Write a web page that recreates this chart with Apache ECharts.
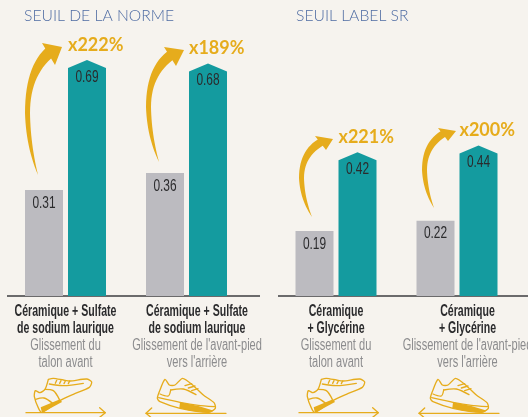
<!DOCTYPE html>
<html><head><meta charset="utf-8">
<style>html,body{margin:0;padding:0;background:#f6f3ee;overflow:hidden}#c{width:528px;height:417px}</style>
<script src="https://cdn.jsdelivr.net/npm/echarts@6/dist/echarts.min.js"></script>
</head><body><div id="c"></div>
<script>
const panelTitles = ['SEUIL DE LA NORME', 'SEUIL LABEL SR'];
const categoriesLeft = ['Céramique + Sulfate de sodium laurique, talon', "Céramique + Sulfate de sodium laurique, avant-pied"];
const categoriesRight = ['Céramique + Glycérine, talon', "Céramique + Glycérine, avant-pied"];
const productLinesLeft = [['Céramique + Sulfate', 'de sodium laurique'], ['Céramique + Sulfate', 'de sodium laurique']];
const productLinesRight = [['Céramique', '+ Glycérine'], ['Céramique', '+ Glycérine']];
const motionLines = [['Glissement du', 'talon avant'], ["Glissement de l'avant-pied", "vers l'arrière"]];
const beforeLeft = [0.31, 0.36];
const afterLeft = [0.69, 0.68];
const gainLeft = ['x222%', 'x189%'];
const beforeRight = [0.19, 0.22];
const afterRight = [0.42, 0.44];
const gainRight = ['x221%', 'x200%'];

const BG = '#f6f3ee', GREY = '#bcbbc0', TEAL = '#149b9f', GOLD = '#e6ac1c', INK = '#2b2b2d';
const SANS = '"Liberation Sans",sans-serif';
const BAR = 38, OFF = 21.5, ROOF = 8;

function narrowText(text, x, y, font, fill, sx) {
  return { type: 'text', x, y, scaleX: sx, style: { text, x: 0, y: 0, align: 'center', verticalAlign: 'middle', fill, font } };
}
function renderBar(kind, gains) {
  return function (params, api) {
    const i = api.value(0), v = api.value(1);
    const p = api.coord([i, v]), b = api.coord([i, 0]);
    const cx = p[0] + (kind === 'after' ? OFF : -OFF), l = cx - BAR / 2, r = cx + BAR / 2;
    const kids = [];
    if (kind === 'after') {
      kids.push({ type: 'polygon', shape: { points: [[l, b[1]], [l, p[1] + ROOF], [cx, p[1]], [r, p[1] + ROOF], [r, b[1]]] }, style: { fill: TEAL } });
      kids.push(narrowText(v.toFixed(2), cx, p[1] + 17, '17px ' + SANS, INK, 0.7));
      kids.push({ type: 'text', style: { text: gains[i], x: l, y: p[1] - 15, align: 'left', verticalAlign: 'middle', fill: GOLD, font: 'bold 18px Lato,sans-serif' } });
    } else {
      kids.push({ type: 'rect', shape: { x: l, y: p[1], width: BAR, height: b[1] - p[1] }, style: { fill: GREY } });
      kids.push(narrowText(v.toFixed(2), cx, p[1] + 13, '17px ' + SANS, INK, 0.7));
    }
    return { type: 'group', children: kids };
  };
}
function renderLabels(product) {
  return function (params, api) {
    const i = api.value(0), b = api.coord([i, 0]);
    const cx = b[0] + (i === 1 ? 10.5 : 0);
    const kids = [];
    product[i].forEach((t, k) => kids.push(narrowText(t, cx, b[1] + 15.5 + k * 17, 'bold 16px ' + SANS, INK, 0.66)));
    motionLines[i].forEach((t, k) => kids.push(narrowText(t, cx, b[1] + 49.5 + k * 17, '16px ' + SANS, '#8c8c8e', 0.69)));
    return { type: 'group', children: kids };
  };
}
function pairs(a) { return a.map((v, i) => [i, v]); }
function xAxisFor(gridIndex, cats) {
  return { type: 'category', gridIndex, data: cats, axisLine: { show: false }, axisTick: { show: false }, axisLabel: { show: false } };
}
function yAxisFor(gridIndex) { return { type: 'value', gridIndex, min: 0, max: 0.8, show: false }; }
function bars(idx, arr, kind, gains) {
  return { type: 'custom', xAxisIndex: idx, yAxisIndex: idx, data: pairs(arr), renderItem: renderBar(kind, gains), clip: false, encode: { x: 0, y: 1 } };
}
function labels(idx, product) {
  return { type: 'custom', xAxisIndex: idx, yAxisIndex: idx, data: product.map((p, i) => [i, 0]), renderItem: renderLabels(product), clip: false, encode: { x: 0, y: 1 }, silent: true };
}

/* decoration: curved gold arrows */
function quad(a, c, b, n, out) {
  for (let k = 0; k <= n; k++) {
    const t = k / n, u = 1 - t;
    out.push([u * u * a[0] + 2 * u * t * c[0] + t * t * b[0], u * u * a[1] + 2 * u * t * c[1] + t * t * b[1]]);
  }
}
function arrowPoly(T, L, tip, barb, low) {
  const J1 = [barb[0] + (low[0] - barb[0]) * 0.25, barb[1] + (low[1] - barb[1]) * 0.25];
  const J2 = [barb[0] + (low[0] - barb[0]) * 0.7, barb[1] + (low[1] - barb[1]) * 0.7];
  const w = 5, pts = [];
  quad(T, [L[0] + 1, L[1] + (T[1] - L[1]) * 0.55], L, 14, pts);
  quad(L, [L[0], J1[1] + (L[1] - J1[1]) * 0.3], J1, 14, pts);
  pts.push(barb, tip, low);
  const I = [L[0] + w, L[1]];
  quad(J2, [I[0], J2[1] + (I[1] - J2[1]) * 0.35], I, 14, pts);
  quad(I, [I[0] + 0.5, I[1] + (T[1] - I[1]) * 0.5], T, 14, pts);
  return { type: 'polygon', shape: { points: pts }, style: { fill: GOLD }, silent: true };
}
const arrows = [
  [[38, 175], [25, 113], [62, 47], [42, 43], [55, 65]],
  [[159, 162], [146, 107], [184, 50], [164, 47], [176, 66]],
  [[312, 217], [299, 178], [333, 139], [315, 136], [326, 150]],
  [[434, 208], [422, 170], [456, 131], [438, 128], [448, 141]]
];

/* decoration: shoe pictograms, in 3x local units */
const lineStyle = { stroke: GOLD, lineWidth: 4, fill: null, lineJoin: 'round', lineCap: 'round' };
function pl(points, smooth) { return { type: 'polyline', shape: { points, smooth: smooth || 0 }, style: lineStyle, silent: true }; }
function shoeFwd(x, y) {
  return { type: 'group', x, y, scaleX: 1 / 3, scaleY: 1 / 3, silent: true, children: [
    { type: 'polygon', shape: { points: [[62, 112], [120, 88], [126, 96], [66, 128]] }, style: { fill: GOLD } },
    pl([[85, 28], [100, 25], [130, 30], [150, 33], [200, 27], [215, 36], [208, 52], [160, 73], [120, 92], [66, 127], [56, 116], [43, 80], [46, 62], [60, 68], [75, 58], [85, 28]], 0.25),
    pl([[88, 42], [130, 47], [190, 40]], 0.3),
    pl([[75, 58], [100, 62], [118, 88]], 0.3),
    pl([[47, 88], [72, 84], [98, 100]], 0.3),
    pl([[106, 40], [110, 31]]), pl([[119, 40], [123, 32]]), pl([[132, 41], [136, 33]]), pl([[145, 41], [149, 33]]),
    pl([[18, 128], [255, 128]]), pl([[239, 113], [256, 128], [239, 142]])
  ] };
}
function shoeBack(x, y) {
  return { type: 'group', x, y, scaleX: 1 / 3, scaleY: 1 / 3, silent: true, children: [
    { type: 'polygon', shape: { points: [[120, 97], [175, 108], [222, 122], [205, 128], [150, 122], [118, 114]] }, style: { fill: GOLD } },
    pl([[60, 60], [75, 28], [88, 45], [105, 45], [128, 25], [160, 47], [190, 75], [222, 98], [226, 115], [205, 127], [120, 115], [60, 95], [52, 85], [60, 60]], 0.25),
    pl([[56, 83], [120, 97], [175, 106], [224, 110]], 0.2),
    pl([[60, 72], [85, 78], [92, 60]], 0.3),
    pl([[92, 60], [130, 57], [168, 74]], 0.3),
    pl([[135, 47], [155, 41]]), pl([[145, 54], [165, 48]]), pl([[155, 62], [174, 56]]),
    pl([[18, 130], [258, 130]]), pl([[35, 114], [18, 130], [35, 144]])
  ] };
}

const chart = echarts.init(document.getElementById('c'), null, { renderer: 'canvas' });
const titleStyle = { fontFamily: 'Lato,sans-serif', fontSize: 15.7, fontWeight: 300, color: '#4f6ca3' };
chart.setOption({
  backgroundColor: BG,
  animation: false,
  title: [
    { text: panelTitles[0], left: 19, top: 3, textStyle: titleStyle },
    { text: panelTitles[1], left: 291, top: 3, textStyle: titleStyle }
  ],
  grid: [
    { left: 5, width: 242, top: 22.4, bottom: 121, outerBoundsMode: 'none' },
    { left: 275.5, width: 242, top: 22.4, bottom: 121, outerBoundsMode: 'none' }
  ],
  xAxis: [xAxisFor(0, categoriesLeft), xAxisFor(1, categoriesRight)],
  yAxis: [yAxisFor(0), yAxisFor(1)],
  series: [
    bars(0, beforeLeft, 'before'), bars(0, afterLeft, 'after', gainLeft), labels(0, productLinesLeft),
    bars(1, beforeRight, 'before'), bars(1, afterRight, 'after', gainRight), labels(1, productLinesRight)
  ],
  graphic: [
    { type: 'line', shape: { x1: 7, y1: 296, x2: 260, y2: 296 }, style: { stroke: '#3d3d3f', lineWidth: 1.5 }, silent: true },
    { type: 'line', shape: { x1: 278, y1: 296, x2: 528, y2: 296 }, style: { stroke: '#3d3d3f', lineWidth: 1.5 }, silent: true },
    ...arrows.map(a => arrowPoly(...a)),
    shoeFwd(20, 370), shoeBack(140, 370), shoeFwd(293, 370), shoeBack(413, 370)
  ]
});
</script></body></html>
